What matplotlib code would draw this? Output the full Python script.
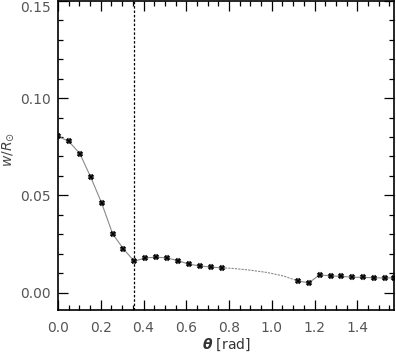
import numpy as np
import matplotlib
matplotlib.use("Agg")
import matplotlib.pyplot as plt
from matplotlib.ticker import MultipleLocator, FixedLocator, FormatStrFormatter

# sampled points (markers)
theta_left = [0.0, 0.051, 0.102, 0.153, 0.204, 0.255, 0.306, 0.357,
              0.408, 0.459, 0.510, 0.561, 0.612, 0.663, 0.714, 0.765]
w_left = [0.0804, 0.0777, 0.0715, 0.0594, 0.0461, 0.0304, 0.0225, 0.0162,
          0.0179, 0.0183, 0.0179, 0.0165, 0.0147, 0.0138, 0.0132, 0.0128]

theta_right = [1.122, 1.173, 1.224, 1.275, 1.326, 1.377, 1.428, 1.479,
               1.530, 1.571]
w_right = [0.0061, 0.0051, 0.0092, 0.0087, 0.0084, 0.0080, 0.0079, 0.0077,
           0.0076, 0.0077]

# unsampled stretch (dashed curve)
theta_gap = [0.765, 0.82, 0.90, 0.98, 1.055, 1.122]
w_gap = [0.0128, 0.0125, 0.0116, 0.0104, 0.0086, 0.0061]

theta_cut = 0.357

y_ticks = [0.0, 0.05, 0.10, 0.15]

fig = plt.figure(figsize=(3.96, 3.52), dpi=100)
ax = fig.add_axes([0.1465, 0.119, 0.848, 0.879])

line_col = "#8a8a8a"
ax.plot(theta_left, w_left, color=line_col, lw=0.8, zorder=2)
ax.plot(theta_right, w_right, color=line_col, lw=0.8, zorder=2)
ax.plot(theta_gap, w_gap, color=line_col, lw=0.8, ls=(0, (2, 1)), zorder=2)
for th, w in [(theta_left, w_left), (theta_right, w_right)]:
    ax.plot(th, w, ls="none", marker="X", ms=4.2, color="black",
            mec="black", mew=0.3, zorder=3)

ax.axvline(theta_cut, color="black", lw=0.9, ls=(0, (2, 1.5)), zorder=1)

ax.set_xlim(0, np.pi / 2)
ax.set_ylim(-0.0089, 0.15)

ax.xaxis.set_major_locator(MultipleLocator(0.2))
ax.xaxis.set_minor_locator(MultipleLocator(0.05))
ax.yaxis.set_major_locator(FixedLocator(y_ticks))
ax.yaxis.set_minor_locator(MultipleLocator(0.01))
ax.xaxis.set_major_formatter(FormatStrFormatter("%.1f"))
ax.yaxis.set_major_formatter(FormatStrFormatter("%.2f"))

ax.tick_params(which="both", direction="in", top=True, right=True,
               color="black", labelcolor="#555555", labelsize=10)
ax.tick_params(which="major", length=7, width=0.9)
ax.tick_params(which="minor", length=3.5, width=0.9)
ax.tick_params(axis="x", pad=8)
ax.tick_params(axis="y", pad=5)

# top label sits just under the frame edge, as in the original
ax.yaxis.get_major_ticks()[-1].label1.set_verticalalignment("top")

for s in ax.spines.values():
    s.set_linewidth(1.2)

ax.set_xlabel(r"$\boldsymbol{\theta}$ [rad]", fontsize=10, color="#333333",
              labelpad=1)
ax.set_ylabel(r"$w/R_{\odot}$", fontsize=10, color="#444444")
ax.yaxis.set_label_coords(-0.125, 0.52)

fig.savefig("out.png", dpi=100)
